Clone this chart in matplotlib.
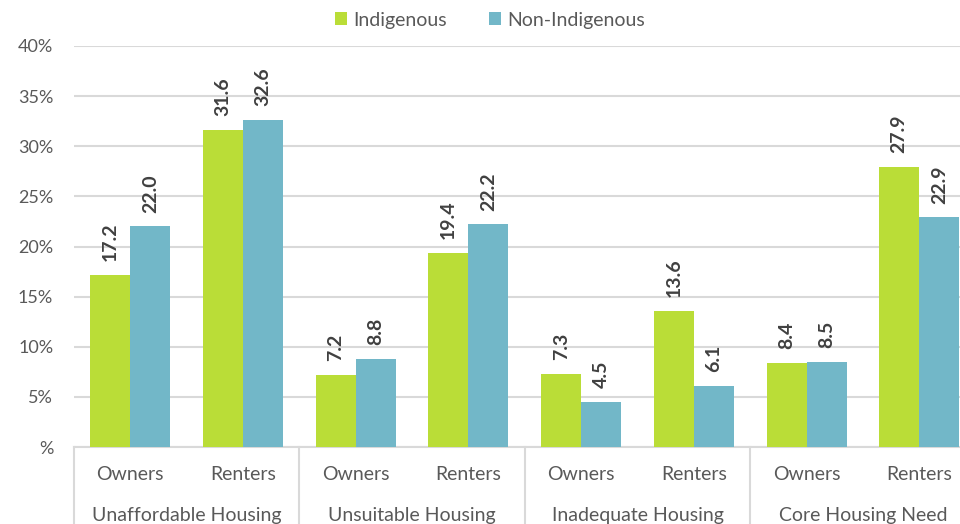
import matplotlib

matplotlib.use("Agg")
import matplotlib.pyplot as plt
import numpy as np

groups = ["Unaffordable Housing", "Unsuitable Housing", "Inadequate Housing", "Core Housing Need"]
tenure = ["Owners", "Renters"]
indigenous = [17.2, 31.6, 7.2, 19.4, 7.3, 13.6, 8.4, 27.9]
non_indigenous = [22.0, 32.6, 8.8, 22.2, 4.5, 6.1, 8.5, 22.9]
yticks = [0, 5, 10, 15, 20, 25, 30, 35, 40]
ytick_labels = ["%", "5%", "10%", "15%", "20%", "25%", "30%", "35%", "40%"]

green = "#BADD37"
blue = "#72B7C8"
grid_c = "#D9D9D9"
text_c = "#595959"
label_c = "#404040"

plt.rcParams["font.family"] = ["Lato", "DejaVu Sans"]

fig = plt.figure(figsize=(9.6, 5.24), dpi=100)
ax = fig.add_axes([74 / 960, 77 / 524, 901.6 / 960, 401 / 524])

x = np.arange(len(indigenous))
w = 0.355
b1 = ax.bar(x - w / 2, indigenous, w, color=green, label="Indigenous", zorder=3)
b2 = ax.bar(x + w / 2, non_indigenous, w, color=blue, label="Non-Indigenous", zorder=3)

for bars, vals in ((b1, indigenous), (b2, non_indigenous)):
    for bar, v in zip(bars, vals):
        ax.annotate(f"{v:.1f}", (bar.get_x() + bar.get_width() / 2, v),
                    xytext=(0, 10), textcoords="offset points",
                    rotation=90, ha="center", va="bottom",
                    fontsize=14, fontweight="bold", color=label_c)

ax.set_xlim(-0.5, len(x) - 0.5)
ax.set_ylim(0, 40)
ax.set_yticks(yticks)
ax.set_yticklabels(ytick_labels)
ax.tick_params(axis="y", length=0, pad=15, labelsize=13, labelcolor=text_c)
ax.set_xticks([])
ax.yaxis.grid(True, color=grid_c, linewidth=1.5, zorder=0)
for s in ("top", "right", "left"):
    ax.spines[s].set_visible(False)
ax.spines["bottom"].set_color(grid_c)
ax.spines["bottom"].set_linewidth(1.5)

trans = ax.get_xaxis_transform()
for i in x:
    ax.text(i, -27 / 401, tenure[i % 2], transform=trans, ha="center", va="center",
            fontsize=14, color=text_c)
for g, name in enumerate(groups):
    ax.text(2 * g + 0.5, -68 / 401, name, transform=trans, ha="center", va="center",
            fontsize=14, color=text_c)
for g in range(len(groups) + 1):
    ax.plot([2 * g - 0.5, 2 * g - 0.5], [0, -0.3], transform=trans, color=grid_c,
            linewidth=1.5, clip_on=False)

ax.legend(loc="center", bbox_to_anchor=(490 / 960, 1 - 20 / 524),
          bbox_transform=fig.transFigure, ncol=2, frameon=False, fontsize=14,
          handlelength=0.6, handleheight=0.6, handletextpad=0.3, columnspacing=2.2,
          labelcolor=text_c)

fig.savefig("out.png", dpi=100)
